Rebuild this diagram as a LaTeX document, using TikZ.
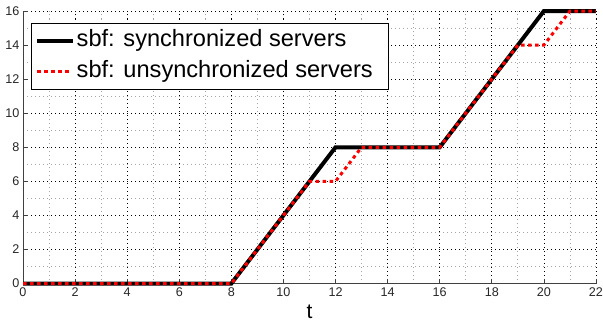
\documentclass[tikz,border=0pt]{standalone}
\usepackage{fontspec}
\setmainfont{Liberation Sans}
\begin{document}
\begin{tikzpicture}[x=1pt,y=1pt,
  majorgrid/.style={black,line width=0.8pt,dash pattern=on 1pt off 3pt},
  minorgrid/.style={black!35,line width=0.8pt,dash pattern=on 1pt off 3pt},
  axisline/.style={black!75,line width=0.8pt},
  syncline/.style={black,line width=4pt,line join=miter},
  unsyncline/.style={red,line width=3pt,dash pattern=on 3.5pt off 3.5pt},
  ticklab/.style={font=\fontsize{12.6}{12.6}\selectfont,text=black!85,inner sep=0pt},
  legtext/.style={font=\fontsize{23.6}{23.6}\selectfont,anchor=west,inner sep=0pt}]
\useasboundingbox (0,0) rectangle (603,325);
\begin{scope}[shift={(23pt,41.5pt)},x=26.045pt,y=17.03pt]
  % minor grid
  \foreach \i in {1,3,...,21} \draw[minorgrid] (\i,0) -- (\i,16);
  \foreach \j in {1,3,...,15} \draw[minorgrid] (0,\j) -- (22,\j);
  % major grid
  \foreach \i in {2,4,...,22} \draw[majorgrid] (\i,0) -- (\i,16);
  \foreach \j in {2,4,...,16} \draw[majorgrid] (0,\j) -- (22,\j);
  % axes
  \coordinate (o) at (0,0);
  \coordinate (xe) at (22,0);
  \coordinate (ye) at (0,16);
  \draw[axisline] (ye) -- (o) -- (xe);
  \foreach \i in {0,2,...,22} {
    \draw[axisline] (\i,0) -- ++(0,5pt);
    \node[ticklab,anchor=north] (xl\i) at ([yshift=-4pt]\i,0) {\i};
  }
  \foreach \j in {0,2,...,16} {
    \draw[axisline] (0,\j) -- ++(5pt,0);
    \node[ticklab,anchor=east] (yl\j) at ([xshift=-3.5pt]0,\j) {\j};
  }
  % data
  \draw[syncline] (0,0) -- (8,0) -- (12,8) -- (16,8) -- (20,16) -- (22,16);
  \draw[unsyncline] (0,0) -- (8,0) -- (11,6) -- (12,6) -- (13,8) -- (16,8) -- (19,14) -- (20,14) -- (21,16) -- (22,16);
\end{scope}
\node[font=\fontsize{21}{21}\selectfont,inner sep=0pt] (tlab) at (309.5,13) {t};
% legend
\draw[black,line width=0.8pt,fill=white] (31,236) rectangle (388,302);
\coordinate (l1a) at (37,284.3);
\coordinate (l1b) at (73,284.3);
\coordinate (l2a) at (37,253.3);
\coordinate (l2b) at (72,253.3);
\draw[syncline] (l1a) -- (l1b);
\draw[unsyncline] (l2a) -- (l2b);
\node[legtext] (t1) at (76.5,284.3) {sbf: synchronized servers};
\node[legtext] (t2) at (76.5,253.3) {sbf: unsynchronized servers};
\end{tikzpicture}
\end{document}
